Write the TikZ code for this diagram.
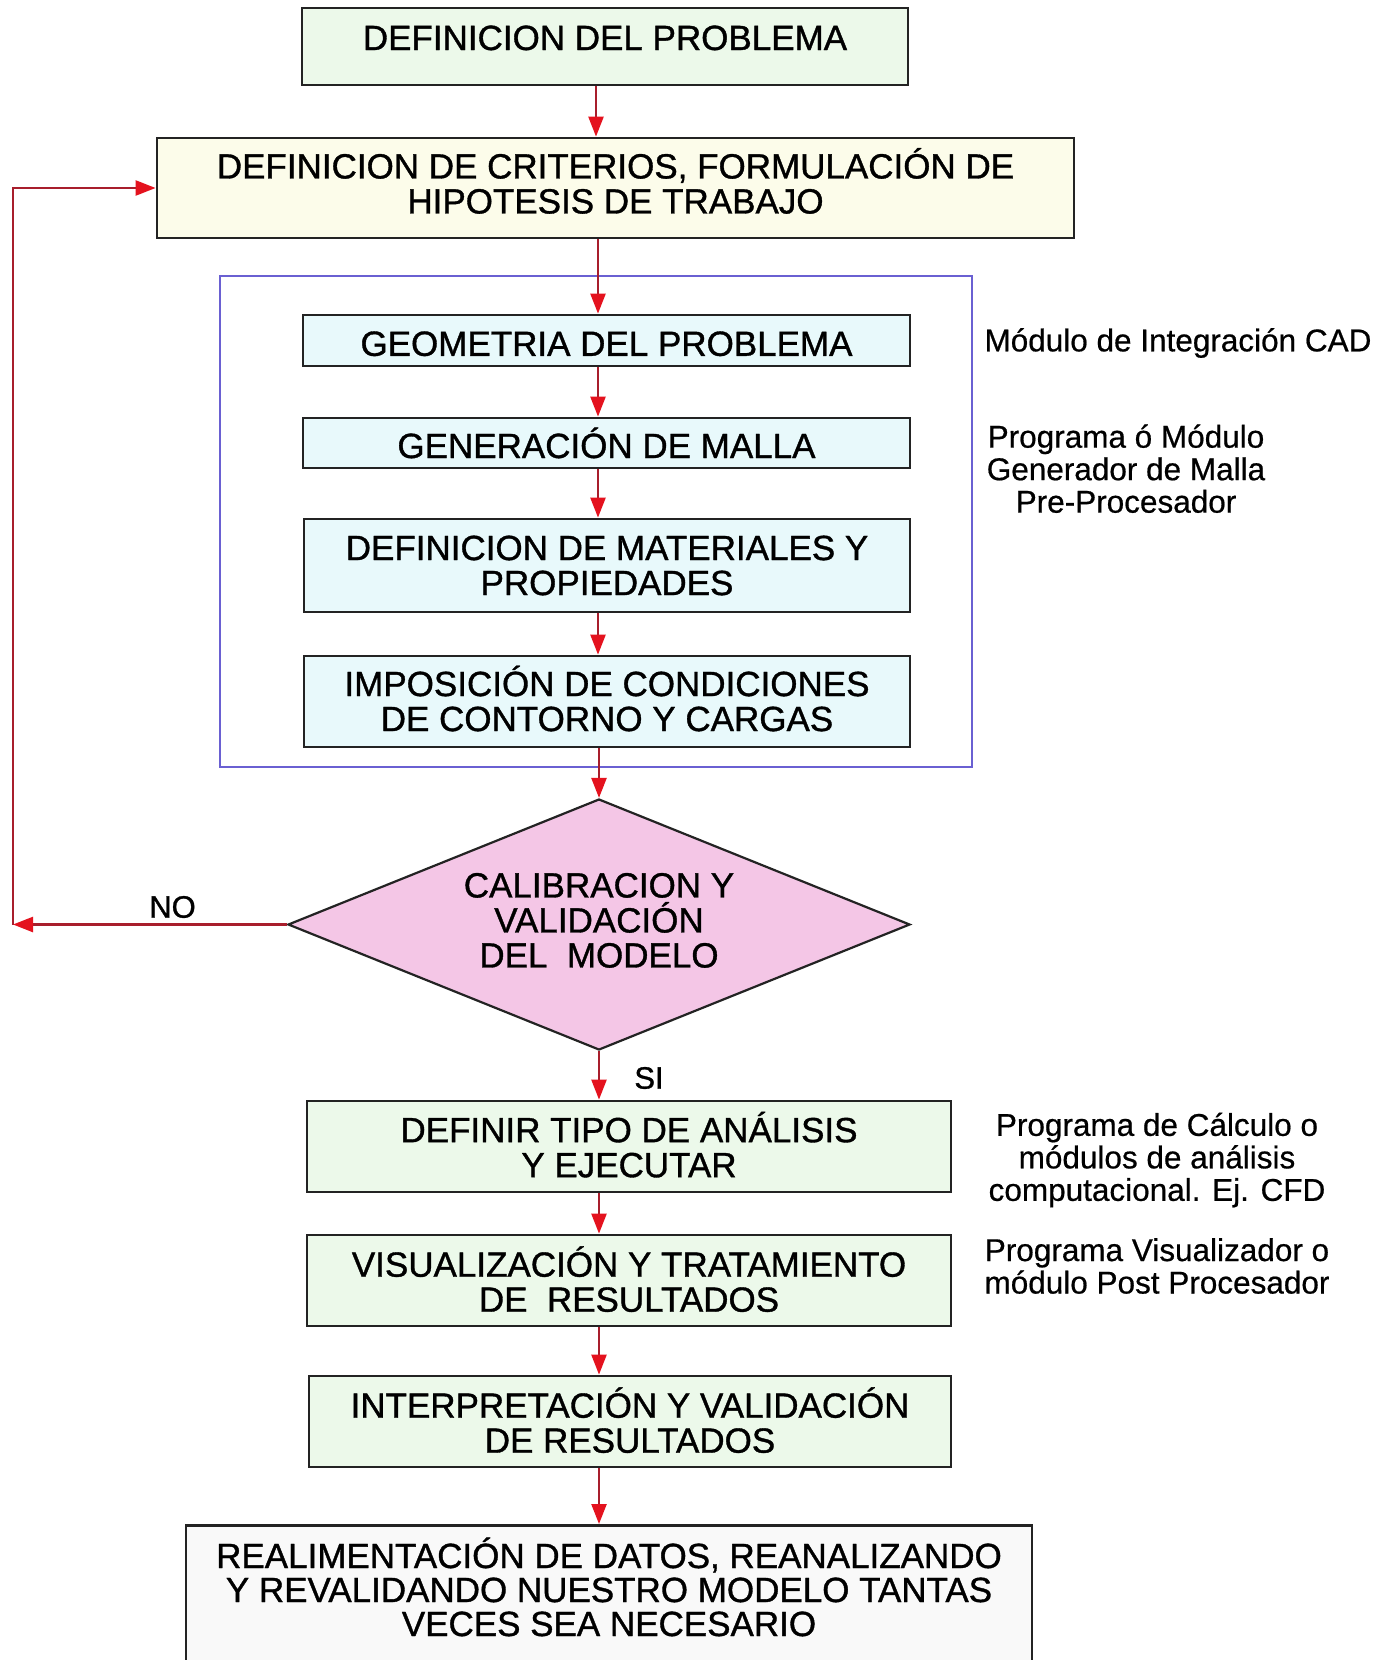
\documentclass[tikz,border=0pt]{standalone}
\usepackage{fontspec}
\setmainfont{Liberation Sans}
\newfontfamily\boxface{Liberation Sans}[FakeBold=1.0]
\newfontfamily\noteface{Liberation Sans}[FakeBold=0.6]
\usetikzlibrary{arrows.meta,shapes.geometric,calc}

\definecolor{edgered}{RGB}{168,30,44}
\definecolor{tipred}{RGB}{228,18,30}
\definecolor{boxline}{RGB}{35,35,35}
\definecolor{fillgreen}{RGB}{236,249,234}
\definecolor{fillyellow}{RGB}{252,252,234}
\definecolor{fillcyan}{RGB}{232,249,251}
\definecolor{fillpink}{RGB}{244,198,230}
\definecolor{frameblue}{RGB}{106,96,210}
\definecolor{fillgray}{RGB}{249,249,249}

\newcommand{\boxfont}{\boxface\fontsize{35}{35}\selectfont}
\newcommand{\notefont}{\noteface\fontsize{31.5}{32.5}\selectfont}
% invisible rules that nudge text inside its box
\newcommand{\lift}[1]{\rule[-#1]{0pt}{#1}}
\newcommand{\drop}[1]{\rule{0pt}{#1}}

\begin{document}
\begin{tikzpicture}[x=1pt,y=-1pt,
  stepbox/.style={draw=boxline, line width=2.8pt, inner sep=0pt, align=center, font=\boxfont},
  flow/.style={draw=edgered, line width=2.4pt, -{Triangle[length=20pt,width=15pt,color=tipred]}},
  note/.style={align=center, font=\notefont, inner sep=0pt},
  tag/.style={font=\boxface\fontsize{31}{31}\selectfont, inner sep=0pt}]

% page area
\useasboundingbox (0,0) rectangle (1392,1660);
\clip (0,0) rectangle (1392,1660);
\fill[white] (0,0) rectangle (1392,1660);

% process boxes
\node[stepbox, fill=fillgreen, minimum width=606pt, text height=42pt, text depth=35pt] (b1) at (605,46.5) {DEFINICION DEL PROBLEMA};
\node[stepbox, fill=fillyellow, minimum width=917pt, minimum height=100pt] (b2) at (615.5,188) {DEFINICION DE CRITERIOS, FORMULACI\smash{Ó}N DE\\HIPOTESIS DE TRABAJO\lift{8.5pt}};

% pre-processing group
\node[draw=frameblue, line width=1.5pt, minimum width=752pt, minimum height=491pt, inner sep=0pt] (group) at (596,521.5) {};

\node[stepbox, fill=fillcyan, minimum width=607pt, minimum height=51pt] (b3) at (606.5,340.5) {\drop{31pt}GEOMETRIA DEL PROBLEMA};
\node[stepbox, fill=fillcyan, minimum width=607pt, minimum height=50pt] (b4) at (606.5,443) {GENERACIÓN DE MALLA};
\node[stepbox, fill=fillcyan, minimum width=606pt, minimum height=93pt] (b5) at (607,565.5) {DEFINICION DE MATERIALES Y\\PROPIEDADES};
\node[stepbox, fill=fillcyan, minimum width=606pt, minimum height=91pt] (b6) at (607,701.5) {IMPOSICI\smash{Ó}N DE CONDICIONES\\DE CONTORNO Y CARGAS};

% decision
\node[diamond, draw=boxline, line width=2.2pt, fill=fillpink, minimum width=622pt, minimum height=251pt, aspect=2.48, inner sep=0pt, align=center, font=\boxfont] (dec) at (599,924.5) {CALIBRACION Y\\VALIDACI\smash{Ó}N\\DEL\ \ MODELO\lift{8.5pt}};

% solution and post-processing
\node[stepbox, fill=fillgreen, minimum width=644pt, minimum height=91pt] (b7) at (629,1146.5) {DEFINIR TIPO DE ANÁLISIS\\Y EJECUTAR\lift{4pt}};
\node[stepbox, fill=fillgreen, minimum width=644pt, minimum height=91pt] (b8) at (629,1280.5) {VISUALIZACIÓN Y TRATAMIENTO\\DE\ \ RESULTADOS\lift{3pt}};
\node[stepbox, fill=fillgreen, minimum width=642pt, minimum height=91pt] (b9) at (630,1421.5) {INTERPRETACIÓN Y VALIDACIÓN\\DE RESULTADOS\lift{3pt}};
\node[stepbox, fill=fillgray, minimum width=846pt, minimum height=200pt, anchor=north] (b10) at (609,1524) {};
\node[font=\boxface\fontsize{35}{34}\selectfont, align=center, inner sep=0pt] (b10text) at ($(b10.north)+(0,63)$) {REALIMENTACIÓN DE DATOS, REANALIZANDO\\Y REVALIDANDO NUESTRO MODELO TANTAS\\VECES SEA NECESARIO};

% side notes
\node[note] (n1) at (1178,343) {Módulo de Integración CAD};
\node[note] (n2) at (1126,468.7) {Programa ó Módulo\\Generador de Malla\\Pre-Procesador};
\node[note] (n3) at (1157,1160) {Programa de Cálculo o\\módulos de análisis\\computacional. Ej. CFD};
\node[note] (n4) at (1157,1266) {Programa Visualizador o\\módulo Post Procesador};

% branch labels
\node[tag] (no) at (172.5,907) {NO};
\node[tag] (si) at (649,1078) {SI};

% connectors
\coordinate (spineA) at (596,0);
\coordinate (spine) at (598,0);
\coordinate (loopx) at (13,0);
\draw[flow] (b1.south -| spineA) -- (b2.north -| spineA);
\draw[flow] (b2.south -| spine) -- (b3.north -| spine);
\draw[flow] (b3.south -| spine) -- (b4.north -| spine);
\draw[flow] (b4.south -| spine) -- (b5.north -| spine);
\draw[flow] (b5.south -| spine) -- (b6.north -| spine);
\draw[flow] (b6.south -| dec.north) -- (dec.north);
\draw[flow] (dec.south) -- (b7.north -| dec.south);
\draw[flow] (b7.south -| dec.south) -- (b8.north -| dec.south);
\draw[flow] (b8.south -| dec.south) -- (b9.north -| dec.south);
\draw[flow] (b9.south -| dec.south) -- (b10.north -| dec.south);
\draw[flow] (dec.west) -- (dec.west -| loopx);
\draw[flow] (dec.west -| loopx) |- (b2.west);
\end{tikzpicture}
\end{document}
